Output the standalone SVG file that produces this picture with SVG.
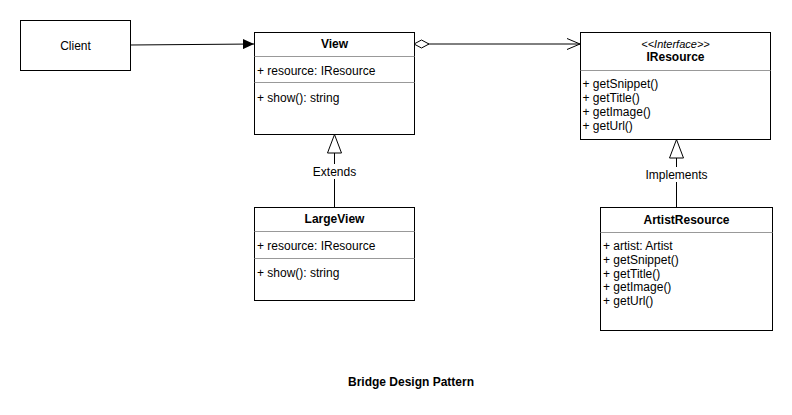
<svg xmlns="http://www.w3.org/2000/svg" width="792" height="415" viewBox="0 0 792 415">
<style>
text{font-family:"Liberation Sans",Arial,sans-serif;font-size:12px;fill:#000}
.b{font-weight:bold}
.i{font-style:italic;font-size:11px}
.c{text-anchor:middle}
.box{fill:#fff;stroke:#000;stroke-width:1}
.sep{stroke:#999;stroke-width:1}
.ln{fill:none;stroke:#000;stroke-width:1}
.tri{fill:#fff;stroke:#000;stroke-width:1}
.lbl{fill:#fff}
</style>
<defs>
<marker id="fill" markerWidth="12" markerHeight="10" refX="11" refY="5" orient="auto" markerUnits="userSpaceOnUse">
<path d="M0,0 L11,5 L0,10 Z" fill="#000"/>
</marker>
<marker id="open" markerWidth="14" markerHeight="12" refX="13" refY="6" orient="auto" markerUnits="userSpaceOnUse">
<path d="M0,0.5 L13,6 L0,11.5" fill="none" stroke="#000"/>
</marker>
<marker id="dia" markerWidth="18" markerHeight="10" refX="1" refY="5" orient="auto" markerUnits="userSpaceOnUse">
<path d="M1,5 L8.5,1 L16,5 L8.5,9 Z" fill="#fff" stroke="#000"/>
</marker>
</defs>
<g id="connectors">
<path class="ln" d="M130,45 L254,44" marker-end="url(#fill)"/>
<path class="ln" d="M414,44 L580,44" marker-start="url(#dia)" marker-end="url(#open)"/>
<path class="ln" d="M334.5,153 L334.5,207"/>
<path class="tri" d="M334.5,134.5 L327.5,153 L341.5,153 Z"/>
<rect class="lbl" x="311" y="164" width="47" height="15"/>
<text class="c" x="334.5" y="175.5">Extends</text>
<path class="ln" d="M676.5,158 L676.5,207"/>
<path class="tri" d="M676.5,139.5 L669.5,158 L683.5,158 Z"/>
<rect class="lbl" x="645" y="167" width="63" height="15"/>
<text class="c" x="676.5" y="178.5">Implements</text>
</g>
<g id="client">
<rect class="box" x="20.5" y="20.5" width="110" height="50"/>
<text class="c" x="75.5" y="49.5">Client</text>
</g>
<g id="view">
<rect class="box" x="254.5" y="32.5" width="160" height="102"/>
<line class="sep" x1="254.5" y1="56.5" x2="414.5" y2="56.5"/>
<line class="sep" x1="254.5" y1="82.5" x2="414.5" y2="82.5"/>
<text class="b c" x="334.5" y="48">View</text>
<text x="257" y="75">+ resource: IResource</text>
<text x="257" y="102">+ show(): string</text>
</g>
<g id="iresource">
<rect class="box" x="580.5" y="32.5" width="190" height="107"/>
<line class="sep" x1="580.5" y1="70.5" x2="770.5" y2="70.5"/>
<text class="i c" x="675.5" y="47.5">&lt;&lt;Interface&gt;&gt;</text>
<text class="b c" x="675.5" y="61">IResource</text>
<text x="582.5" y="87.5">+ getSnippet()</text>
<text x="582.5" y="102">+ getTitle()</text>
<text x="582.5" y="116">+ getImage()</text>
<text x="582.5" y="130">+ getUrl()</text>
</g>
<g id="largeview">
<rect class="box" x="254.5" y="207.5" width="160" height="93"/>
<line class="sep" x1="254.5" y1="231.5" x2="414.5" y2="231.5"/>
<line class="sep" x1="254.5" y1="258.5" x2="414.5" y2="258.5"/>
<text class="b c" x="334.5" y="222.5">LargeView</text>
<text x="257" y="250">+ resource: IResource</text>
<text x="257" y="277">+ show(): string</text>
</g>
<g id="artistresource">
<rect class="box" x="600.5" y="207.5" width="172" height="123"/>
<line class="sep" x1="600.5" y1="232.5" x2="772.5" y2="232.5"/>
<text class="b c" x="686.5" y="223.5">ArtistResource</text>
<text x="603" y="250">+ artist: Artist</text>
<text x="603" y="264">+ getSnippet()</text>
<text x="603" y="277.5">+ getTitle()</text>
<text x="603" y="291">+ getImage()</text>
<text x="603" y="305">+ getUrl()</text>
</g>
<text class="b c" x="411" y="386">Bridge Design Pattern</text>
</svg>
